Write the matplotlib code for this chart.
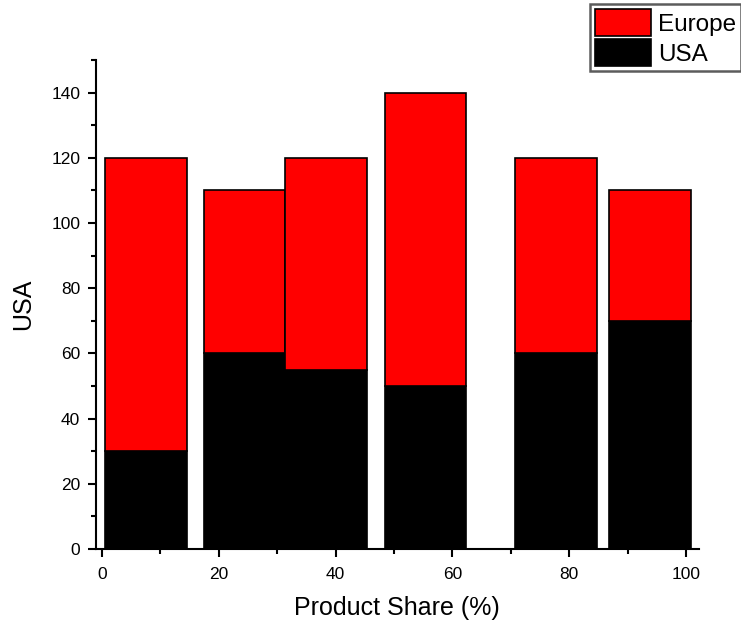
import matplotlib
matplotlib.use("Agg")
import matplotlib.pyplot as plt
from matplotlib.ticker import MultipleLocator

plt.rcParams['font.family'] = ['Liberation Sans', 'DejaVu Sans']

x_pos = [7.5, 24.4, 38.3, 55.4, 77.8, 93.9]
bar_width = 14
usa = [30, 60, 55, 50, 60, 70]
europe = [90, 50, 65, 90, 60, 40]

fig = plt.figure(figsize=(7.41, 6.27), dpi=100)
ax = fig.add_axes([0.129, 0.1244, 0.814, 0.78])

ax.bar(x_pos, usa, width=bar_width, color='black', edgecolor='black', linewidth=1.2, label='USA')
ax.bar(x_pos, europe, width=bar_width, bottom=usa, color='#ff0000', edgecolor='black', linewidth=1.2, label='Europe')

ax.set_xlim(-1.1, 102.2)
ax.set_ylim(0, 150)
ax.xaxis.set_major_locator(MultipleLocator(20))
ax.xaxis.set_minor_locator(MultipleLocator(10))
ax.yaxis.set_major_locator(MultipleLocator(20))
ax.yaxis.set_minor_locator(MultipleLocator(10))
ax.set_yticks(range(0, 141, 20))

for s in ['top', 'right']:
    ax.spines[s].set_visible(False)
for s in ['left', 'bottom']:
    ax.spines[s].set_linewidth(1.5)

ax.tick_params(which='major', direction='out', length=6, width=1.5, labelsize=12.5)
ax.tick_params(axis='x', which='major', pad=7)
ax.tick_params(axis='y', which='major', pad=5)
ax.tick_params(which='minor', direction='out', length=3.5, width=1.5)

ax.set_xlabel('Product Share (%)', fontsize=18, labelpad=10)
ax.set_ylabel('USA', fontsize=18, labelpad=11.5)

handles, labels = ax.get_legend_handles_labels()
leg = fig.legend(handles[::-1], labels[::-1], loc='upper right',
                 bbox_to_anchor=(1.0, 1 - 4/627), bbox_transform=fig.transFigure,
                 fontsize=17.5, frameon=True, fancybox=False,
                 handlelength=2.3, handleheight=1.35, labelspacing=0.12,
                 handletextpad=0.3, borderpad=0.2, borderaxespad=0)
leg.get_frame().set_edgecolor('#333333')
leg.get_frame().set_linewidth(1.8)

fig.savefig('out.png', dpi=100)
